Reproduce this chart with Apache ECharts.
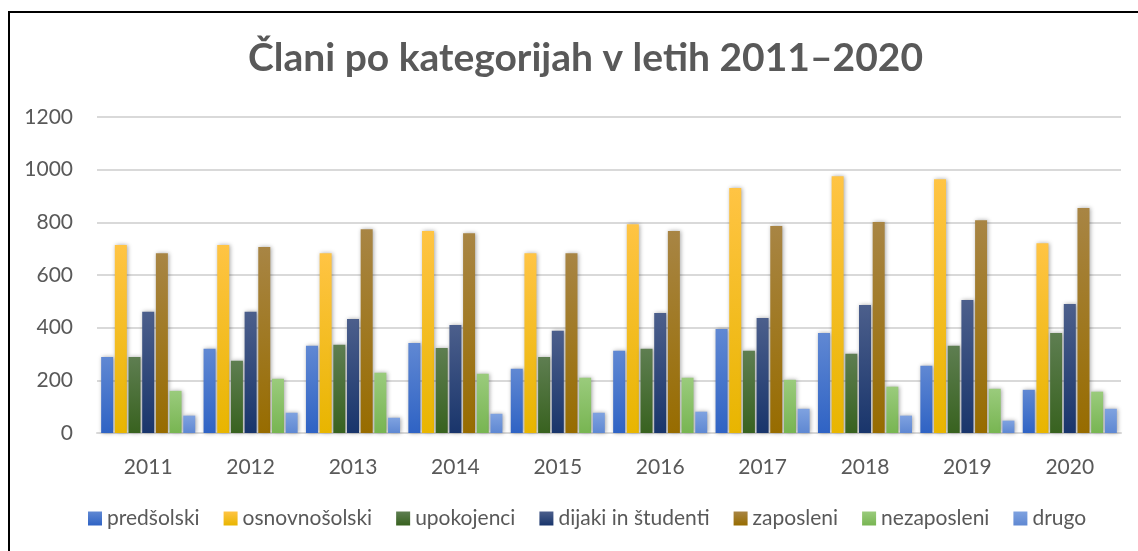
<!DOCTYPE html>
<html>
<head>
<meta charset="utf-8">
<script src="https://cdn.jsdelivr.net/npm/echarts@6/dist/echarts.min.js"></script>
<style>
  html, body { margin: 0; padding: 0; background: #fff; }
  #chart { width: 1138px; height: 551px; }
</style>
</head>
<body>
<div id="chart"></div>
<script>
var years = ['2011', '2012', '2013', '2014', '2015', '2016', '2017', '2018', '2019', '2020']
var yTicks = [0, 200, 400, 600, 800, 1000, 1200]

var predsolski = [289, 320, 331, 342, 244, 312, 395, 380, 255, 164]
var osnovnosolski = [714, 714, 683, 767, 683, 793, 930, 975, 964, 721]
var upokojenci = [289, 274, 335, 323, 289, 320, 312, 301, 331, 380]
var dijaki = [460, 460, 433, 410, 388, 456, 437, 486, 505, 490]
var zaposleni = [683, 706, 774, 759, 683, 767, 786, 801, 808, 854]
var nezaposleni = [160, 206, 229, 225, 210, 210, 202, 176, 168, 157]
var drugo = [66, 77, 58, 73, 77, 81, 92, 66, 47, 92]

var font = 'Lato, "Open Sans", sans-serif'

function grad (top, bottom) {
  return new echarts.graphic.LinearGradient(0, 0, 0, 1, [
    { offset: 0, color: top },
    { offset: 1, color: bottom }
  ])
}

var seriesDefs = [
  { name: 'predšolski', data: predsolski, top: '#6088d3', bottom: '#2f63c4' },
  { name: 'osnovnošolski', data: osnovnosolski, top: '#ffc444', bottom: '#e8b500' },
  { name: 'upokojenci', data: upokojenci, top: '#5e7e51', bottom: '#38621f' },
  { name: 'dijaki in študenti', data: dijaki, top: '#4c5f8c', bottom: '#19356b' },
  { name: 'zaposleni', data: zaposleni, top: '#a88544', bottom: '#976c00' },
  { name: 'nezaposleni', data: nezaposleni, top: '#9acb7c', bottom: '#78b552' },
  { name: 'drugo', data: drugo, top: '#7fa2e0', bottom: '#5f88d2' }
]

var chart = echarts.init(document.getElementById('chart'))

var option = {
  backgroundColor: '#fff',
  animation: false,
  title: {
    text: 'Člani po kategorijah v letih 2011–2020',
    left: 243,
    top: 34,
    textStyle: {
      fontFamily: font,
      fontWeight: 'bold',
      fontSize: 39,
      color: '#595959'
    }
  },
  graphic: [{
    type: 'rect',
    shape: { x: 9, y: 12, width: 1200, height: 600 },
    style: { fill: 'none', stroke: '#000', lineWidth: 2 },
    silent: true
  }],
  legend: {
    bottom: 17,
    left: 83,
    itemWidth: 14,
    itemHeight: 14,
    itemGap: 24,
    icon: 'rect',
    textStyle: { fontFamily: font, fontSize: 21, color: '#595959' },
    data: seriesDefs.map(function (s) { return s.name })
  },
  grid: {
    left: 97,
    right: 17,
    top: 117,
    bottom: 118
  },
  xAxis: {
    type: 'category',
    data: years,
    axisTick: { show: false },
    axisLine: { lineStyle: { color: '#d9d9d9', width: 2 } },
    axisLabel: { fontFamily: font, fontSize: 21, color: '#595959', margin: 24 }
  },
  yAxis: {
    type: 'value',
    min: yTicks[0],
    max: yTicks[yTicks.length - 1],
    interval: 200,
    axisLine: { show: false },
    axisTick: { show: false },
    splitLine: { lineStyle: { color: '#d9d9d9', width: 2 } },
    axisLabel: {
      fontFamily: font,
      fontSize: 21,
      color: '#595959',
      margin: 24,
      formatter: function (v) { return String(v) }
    }
  },
  series: seriesDefs.map(function (s) {
    return {
      name: s.name,
      type: 'bar',
      data: s.data,
      barWidth: 12,
      barGap: '14%',
      itemStyle: {
        color: grad(s.top, s.bottom),
        shadowColor: 'rgba(0,0,0,0.35)',
        shadowBlur: 4,
        shadowOffsetX: 1,
        shadowOffsetY: 0
      }
    }
  })
}

chart.setOption(option)
</script>
</body>
</html>
